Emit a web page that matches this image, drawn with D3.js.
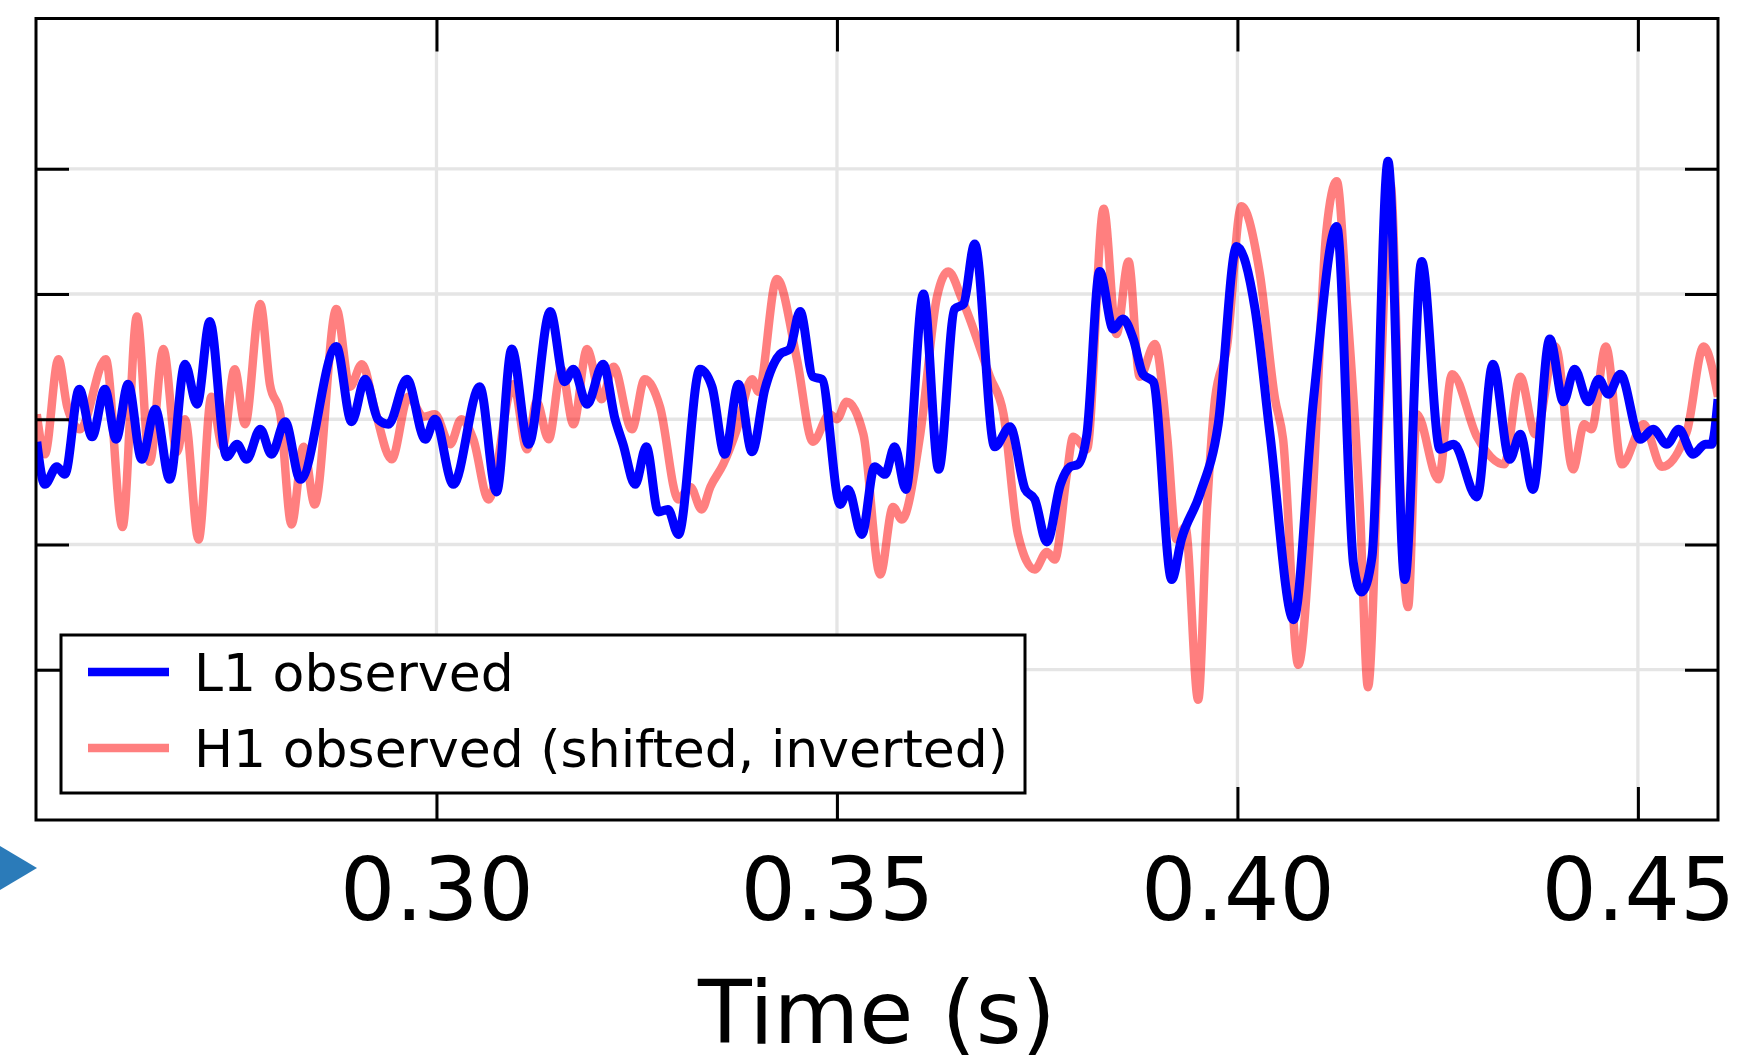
<!DOCTYPE html>
<html>
<head>
<meta charset="utf-8">
<script src="https://cdn.jsdelivr.net/npm/d3@7"></script>
<style>
  html, body { margin: 0; padding: 0; background: #fff; }
  svg { display: block; }
  text { font-family: "DejaVu Sans", sans-serif; fill: #000; }
</style>
</head>
<body>
<svg id="chart"></svg>
<script>
// strain in units of 1e-21, time in seconds
let l1Time = [0.2501,0.2511,0.2526,0.2536,0.2554,0.2570,0.2586,0.2600,0.2615,0.2632,0.2649,0.2667,0.2686,0.2701,0.2717,0.2738,0.2751,0.2763,0.2780,0.2794,0.2811,0.2830,0.2875,0.2894,0.2911,0.2927,0.2940,0.2963,0.2986,0.2998,0.3021,0.3054,0.3075,0.3094,0.3115,0.3142,0.3160,0.3171,0.3188,0.3208,0.3223,0.3233,0.3248,0.3262,0.3277,0.3289,0.3302,0.3329,0.3344,0.3360,0.3377,0.3394,0.3410,0.3429,0.3441,0.3454,0.3470,0.3481,0.3504,0.3514,0.3531,0.3547,0.3560,0.3572,0.3586,0.3608,0.3627,0.3647,0.3658,0.3672,0.3697,0.3716,0.3735,0.3747,0.3762,0.3779,0.3791,0.3801,0.3812,0.3828,0.3845,0.3857,0.3870,0.3882,0.3895,0.3918,0.3930,0.3953,0.3976,0.3999,0.4022,0.4041,0.4070,0.4095,0.4124,0.4145,0.4155,0.4168,0.4188,0.4209,0.4230,0.4253,0.4270,0.4299,0.4319,0.4340,0.4353,0.4369,0.4390,0.4407,0.4421,0.4438,0.4451,0.4463,0.4478,0.4503,0.4519,0.4536,0.4551,0.4569,0.4584,0.4592,0.4600];
let l1Strain = [-0.09,-0.26,-0.19,-0.22,0.12,-0.07,0.12,-0.08,0.14,-0.16,0.04,-0.24,0.22,0.06,0.39,-0.15,-0.10,-0.16,-0.04,-0.14,-0.01,-0.24,0.29,-0.01,0.16,0.00,-0.02,0.16,-0.08,0.00,-0.26,0.13,-0.29,0.28,-0.10,0.43,0.15,0.20,0.06,0.22,0.00,-0.10,-0.26,-0.11,-0.37,-0.36,-0.46,0.20,0.13,-0.14,0.14,-0.13,0.12,0.26,0.28,0.43,0.17,0.16,-0.34,-0.28,-0.46,-0.19,-0.22,-0.11,-0.28,0.50,-0.20,0.44,0.46,0.70,-0.11,-0.03,-0.28,-0.32,-0.49,-0.26,-0.19,-0.18,-0.06,0.59,0.36,0.40,0.32,0.18,0.15,-0.64,-0.48,-0.30,-0.02,0.69,0.44,-0.07,-0.80,0.08,0.77,-0.58,-0.69,-0.55,1.03,-0.64,0.63,-0.12,-0.10,-0.31,0.22,-0.16,-0.06,-0.28,0.32,0.07,0.20,0.07,0.16,0.10,0.18,-0.08,-0.04,-0.10,-0.04,-0.14,-0.10,-0.10,0.08];

let h1Time = [0.2501,0.2511,0.2528,0.2539,0.2555,0.2587,0.2608,0.2626,0.2642,0.2659,0.2676,0.2686,0.2703,0.2719,0.2733,0.2748,0.2761,0.2780,0.2792,0.2805,0.2819,0.2834,0.2848,0.2875,0.2892,0.2907,0.2923,0.2944,0.2965,0.2984,0.2998,0.3017,0.3031,0.3046,0.3065,0.3096,0.3113,0.3125,0.3140,0.3156,0.3171,0.3188,0.3206,0.3221,0.3244,0.3260,0.3279,0.3302,0.3317,0.3331,0.3342,0.3358,0.3375,0.3394,0.3402,0.3425,0.3450,0.3470,0.3491,0.3500,0.3512,0.3533,0.3554,0.3570,0.3581,0.3604,0.3625,0.3639,0.3656,0.3691,0.3708,0.3726,0.3747,0.3762,0.3772,0.3787,0.3795,0.3812,0.3833,0.3849,0.3864,0.3878,0.3897,0.3912,0.3924,0.3935,0.3951,0.3962,0.3972,0.3987,0.4005,0.4028,0.4047,0.4057,0.4076,0.4093,0.4111,0.4124,0.4136,0.4153,0.4163,0.4178,0.4191,0.4207,0.4213,0.4224,0.4251,0.4268,0.4299,0.4333,0.4353,0.4372,0.4397,0.4419,0.4433,0.4442,0.4460,0.4480,0.4507,0.4530,0.4561,0.4582,0.4600];
let h1Strain = [0.02,-0.14,0.24,0.05,-0.04,0.24,-0.43,0.41,-0.17,0.28,-0.13,0.00,-0.48,0.09,-0.11,0.20,-0.02,0.46,0.14,0.02,-0.42,-0.11,-0.34,0.44,0.13,0.22,0.04,-0.16,0.09,0.01,0.02,-0.10,0.00,-0.08,-0.32,0.14,-0.12,0.07,-0.08,0.20,-0.02,0.28,0.08,0.21,-0.04,0.16,0.05,-0.32,-0.27,-0.36,-0.27,-0.18,-0.04,0.16,0.11,0.56,0.24,-0.09,0.02,0.00,0.07,-0.06,-0.62,-0.35,-0.40,-0.06,0.49,0.59,0.48,0.17,0.02,-0.46,-0.60,-0.53,-0.56,-0.22,-0.07,-0.12,0.84,0.34,0.63,0.17,0.30,-0.06,-0.48,-0.43,-1.12,-0.36,0.08,0.29,0.85,0.58,0.08,-0.08,-0.98,-0.36,0.75,0.95,0.49,-0.36,-1.07,0.08,0.94,-0.58,-0.75,0.02,-0.24,0.18,-0.07,-0.18,0.17,-0.06,0.29,-0.20,-0.02,-0.04,0.29,-0.18,-0.02,-0.19,-0.05,0.29,0.09];

let xTicks = [0.30, 0.35, 0.40, 0.45];
let yTicks = [-1.0, -0.5, 0.0, 0.5, 1.0];
let seriesNames = ['L1 observed', 'H1 observed (shifted, inverted)'];

const W = 1738, H = 1057;
const plot = {left: 36, right: 1718, top: 18.5, bottom: 820};

let svg = d3.select('#chart').attr('width', W).attr('height', H);

let x = d3.scaleLinear().domain([0.25, 0.46]).range([plot.left, plot.right]);
let y = d3.scaleLinear().domain([-1.6, 1.6]).range([plot.bottom, plot.top]);

svg.append('defs').append('clipPath').attr('id', 'clip')
  .append('rect')
  .attr('x', plot.left).attr('y', plot.top)
  .attr('width', plot.right - plot.left).attr('height', plot.bottom - plot.top);

// grid
let grid = svg.append('g').attr('class', 'grid')
  .attr('stroke', '#e5e5e5').attr('stroke-width', 3.3);
grid.selectAll('.vg').data(xTicks).enter().append('line')
  .attr('x1', d => x(d)).attr('x2', d => x(d))
  .attr('y1', plot.top).attr('y2', plot.bottom);
grid.selectAll('.hg').data(yTicks).enter().append('line')
  .attr('y1', d => y(d)).attr('y2', d => y(d))
  .attr('x1', plot.left).attr('x2', plot.right);

// traces
let line = d3.line().curve(d3.curveMonotoneX)
  .x(d => x(d[0])).y(d => y(d[1]));
let traces = svg.append('g').attr('clip-path', 'url(#clip)');
traces.append('path')
  .datum(d3.zip(h1Time, h1Strain))
  .attr('d', line)
  .attr('fill', 'none')
  .attr('stroke', '#ff0000').attr('stroke-opacity', 0.5)
  .attr('stroke-width', 8.5)
  .attr('stroke-linejoin', 'round');
traces.append('path')
  .datum(d3.zip(l1Time, l1Strain))
  .attr('d', line)
  .attr('fill', 'none')
  .attr('stroke', '#0000ff')
  .attr('stroke-width', 9)
  .attr('stroke-linejoin', 'round');

// ticks, pointing inward on all four sides
const tickLen = 33;
let axisBottom = d3.axisBottom(x).tickValues(xTicks).tickSize(-tickLen)
  .tickFormat(d3.format('.2f'));
let gx = svg.append('g').attr('transform', `translate(0,${plot.bottom})`).call(axisBottom);
gx.select('.domain').remove();
gx.selectAll('.tick line').attr('stroke', '#000').attr('stroke-width', 3);
gx.selectAll('.tick text')
  .attr('font-size', 87).attr('font-family', '"DejaVu Sans", sans-serif')
  .attr('fill', '#000').attr('dy', 0).attr('y', 100);

let gxTop = svg.append('g').attr('transform', `translate(0,${plot.top})`)
  .call(d3.axisTop(x).tickValues(xTicks).tickSize(-tickLen).tickFormat(''));
gxTop.select('.domain').remove();
gxTop.selectAll('.tick line').attr('stroke', '#000').attr('stroke-width', 3);

let gyLeft = svg.append('g').attr('transform', `translate(${plot.left},0)`)
  .call(d3.axisLeft(y).tickValues(yTicks).tickSize(-tickLen).tickFormat(''));
gyLeft.select('.domain').remove();
gyLeft.selectAll('.tick line').attr('stroke', '#000').attr('stroke-width', 3);

let gyRight = svg.append('g').attr('transform', `translate(${plot.right},0)`)
  .call(d3.axisRight(y).tickValues(yTicks).tickSize(-tickLen).tickFormat(''));
gyRight.select('.domain').remove();
gyRight.selectAll('.tick line').attr('stroke', '#000').attr('stroke-width', 3);

// frame
svg.append('rect')
  .attr('x', plot.left).attr('y', plot.top)
  .attr('width', plot.right - plot.left).attr('height', plot.bottom - plot.top)
  .attr('fill', 'none').attr('stroke', '#000').attr('stroke-width', 3);

// x label
svg.append('text')
  .attr('x', (plot.left + plot.right) / 2).attr('y', 1043)
  .attr('text-anchor', 'middle').attr('font-size', 88)
  .text('Time (s)');

// legend
let legend = svg.append('g');
legend.append('rect')
  .attr('x', 61).attr('y', 635).attr('width', 964).attr('height', 158)
  .attr('fill', '#fff').attr('stroke', '#000').attr('stroke-width', 3);
let legendColors = [{c: '#0000ff', o: 1}, {c: '#ff0000', o: 0.5}];
let rows = legend.selectAll('.row').data(seriesNames).enter().append('g')
  .attr('transform', (d, i) => `translate(0,${672 + i * 76})`);
rows.append('line')
  .attr('x1', 88).attr('x2', 169)
  .attr('stroke', (d, i) => legendColors[i].c)
  .attr('stroke-opacity', (d, i) => legendColors[i].o)
  .attr('stroke-width', 8.5);
rows.append('text')
  .attr('x', 194).attr('y', 18.5)
  .attr('font-size', 52)
  .text(d => d);

// piece of the neighbouring panel's arrow, cut at the left edge
svg.append('polygon')
  .attr('points', '0,846 37,868 0,890')
  .attr('fill', '#2b7bb9');
</script>
</body>
</html>
